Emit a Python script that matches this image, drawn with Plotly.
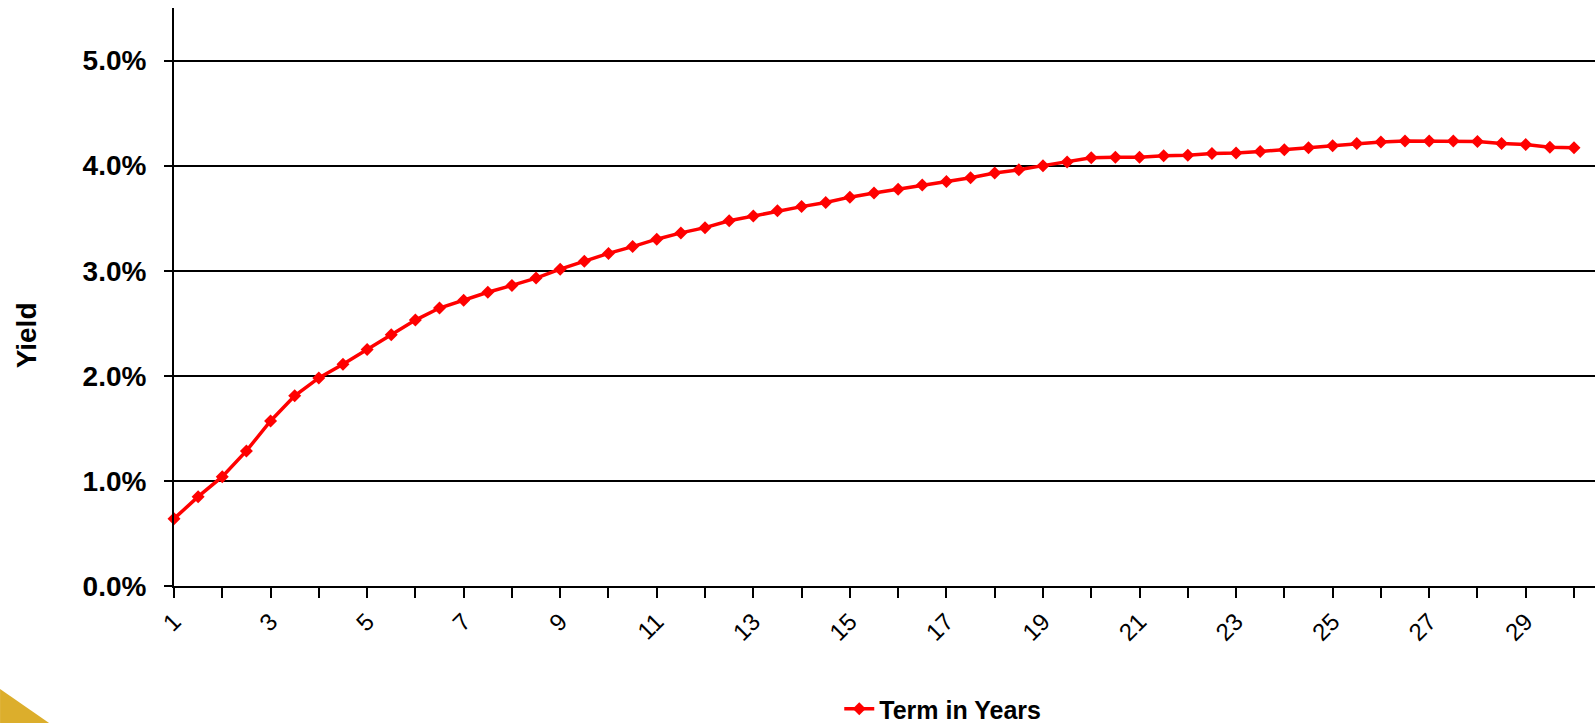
import plotly.graph_objects as go

# Term in years (every half year)
terms = [1, 1.5, 2, 2.5, 3, 3.5, 4, 4.5, 5, 5.5, 6, 6.5, 7, 7.5, 8, 8.5, 9, 9.5, 10,
         10.5, 11, 11.5, 12, 12.5, 13, 13.5, 14, 14.5, 15, 15.5, 16, 16.5, 17, 17.5,
         18, 18.5, 19, 19.5, 20, 20.5, 21, 21.5, 22, 22.5, 23, 23.5, 24, 24.5, 25,
         25.5, 26, 26.5, 27, 27.5, 28, 28.5, 29, 29.5, 30]

# Yield in percent
yields = [0.64, 0.85, 1.04, 1.285, 1.57, 1.81, 1.98, 2.11, 2.25, 2.39, 2.53, 2.645,
          2.72, 2.795, 2.86, 2.93, 3.015, 3.09, 3.165, 3.23, 3.30, 3.36, 3.41, 3.475,
          3.52, 3.57, 3.61, 3.65, 3.70, 3.74, 3.775, 3.815, 3.85, 3.885, 3.93, 3.96,
          4.00, 4.035, 4.075, 4.08, 4.08, 4.095, 4.10, 4.115, 4.12, 4.135, 4.15, 4.17,
          4.19, 4.21, 4.225, 4.235, 4.235, 4.235, 4.23, 4.21, 4.20, 4.175, 4.17]

x_tick_vals = list(range(1, 31))
x_tick_text = [str(v) if v % 2 == 1 else "" for v in x_tick_vals]
y_tick_vals = [0, 1, 2, 3, 4, 5]
y_tick_text = ["0.0%", "1.0%", "2.0%", "3.0%", "4.0%", "5.0%"]

series_name = "Term in Years"
y_title = "Yield"

FONT = "Liberation Sans, Arial, sans-serif"

fig = go.Figure()
fig.add_trace(go.Scatter(
    x=terms, y=yields, mode="lines+markers", name=series_name,
    line=dict(color="#FF0000", width=3.5),
    marker=dict(symbol="diamond", size=10, color="#FF0000"),
    cliponaxis=False,
))

fig.update_layout(
    width=1595, height=723,
    margin=dict(l=174, r=0, t=8, b=137, autoexpand=False),
    paper_bgcolor="white", plot_bgcolor="white",
    font=dict(family=FONT, color="black"),
    showlegend=True,
    legend=dict(orientation="h", x=0.541, xanchor="center", y=-0.213, yanchor="middle",
                font=dict(size=25, family=FONT, weight="bold"),
                bgcolor="rgba(0,0,0,0)"),
    xaxis=dict(
        range=[1, 30.435], tickmode="array", tickvals=x_tick_vals, ticktext=x_tick_text,
        tickangle=-45, ticks="outside", ticklen=10, tickwidth=1.5, tickcolor="black",
        tickfont=dict(size=24, family=FONT), ticklabelstandoff=0, automargin=False,
        showgrid=False, zeroline=False, showline=True, linecolor="black", linewidth=2,
    ),
    yaxis=dict(
        range=[0, 5.5], tickmode="array", tickvals=y_tick_vals, ticktext=y_tick_text,
        ticks="outside", ticklen=8, tickwidth=1.5, tickcolor="black",
        tickfont=dict(size=28, family=FONT, weight="bold"), ticklabelstandoff=12,
        automargin=False,
        showgrid=True, gridcolor="black", gridwidth=1.5,
        zeroline=False, showline=True, linecolor="black", linewidth=2,
    ),
    annotations=[dict(
        text=y_title, textangle=-90, xref="paper", yref="paper",
        x=-0.104, y=0.434, xanchor="center", yanchor="middle", showarrow=False,
        font=dict(size=28, family=FONT, weight="bold"),
    )],
    shapes=[dict(
        type="path", xref="paper", yref="paper",
        path="M -0.1224,-0.178 L -0.0879,-0.237 L -0.1224,-0.237 Z",
        fillcolor="#DCAE2C", line=dict(width=0), layer="below",
    )],
)

fig.write_html("out.html", config={"displayModeBar": False},
               post_script="document.body.style.margin='0';document.body.style.overflow='hidden';")
